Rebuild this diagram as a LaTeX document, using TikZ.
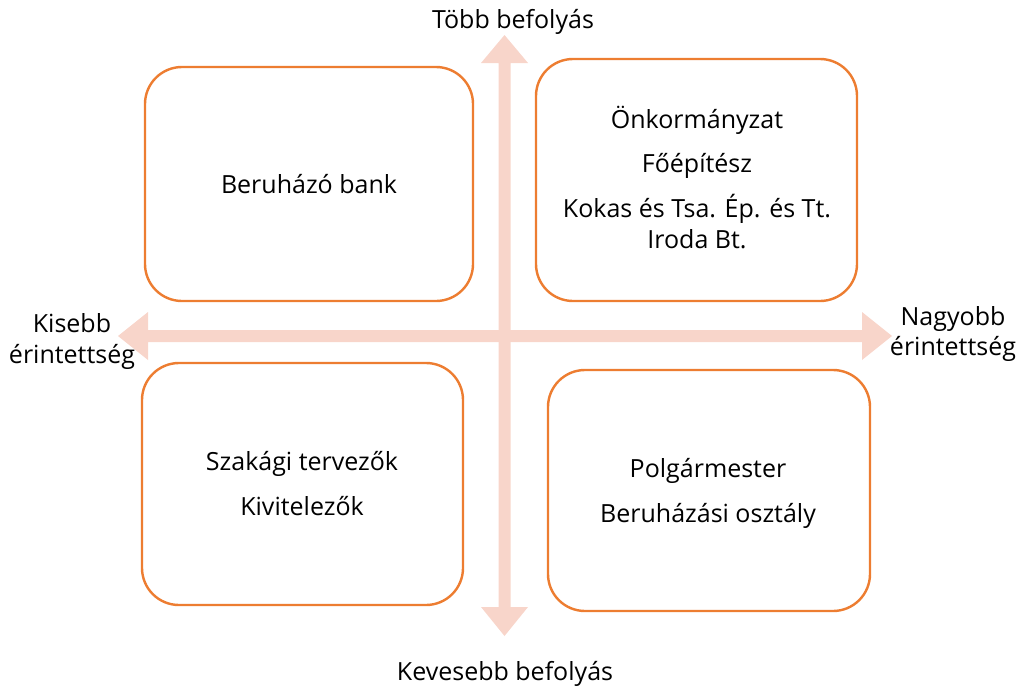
\documentclass[tikz,border=0pt]{standalone}
\usepackage{fontspec}
\setmainfont{Open Sans}
\definecolor{boxorange}{HTML}{ED7D31}
\definecolor{arrowpink}{HTML}{F8D5CA}
\begin{document}
\begin{tikzpicture}[x=1pt,y=-1pt,
  quad/.style={draw=boxorange,line width=2.4pt,rounded corners=37pt,fill=white,inner sep=0pt},
  lbl/.style={anchor=base,inner sep=0pt,font=\fontsize{25}{29}\selectfont},
  axis/.style={fill=arrowpink,draw=none}]
\useasboundingbox (0,0) rectangle (1022,691);
% axes
\fill[axis] (504.5,35) -- (528,63) -- (510.5,63) -- (510.5,607) -- (528,607) -- (504.5,636)
  -- (481,607) -- (498.5,607) -- (498.5,63) -- (481,63) -- cycle;
\fill[axis] (118,336) -- (148,312) -- (148,330) -- (862,330) -- (862,312) -- (892,336)
  -- (862,360) -- (862,342) -- (148,342) -- (148,360) -- cycle;
% boxes
\node[quad,minimum width=328pt,minimum height=234pt] (tl) at (309,184) {};
\node[quad,minimum width=321pt,minimum height=242pt] (tr) at (696.5,180) {};
\node[quad,minimum width=321pt,minimum height=242pt] (bl) at (302.5,484) {};
\node[quad,minimum width=322pt,minimum height=241pt] (br) at (709,490.5) {};
% box texts
\node[lbl] (t1) at (309,193) {Beruházó bank};
\node[lbl] (t2) at (697,128) {Önkormányzat};
\node[lbl] (t3) at (697,172) {Főépítész};
\node[lbl] (t4) at (697,217) {Kokas és Tsa. Ép. és Tt.};
\node[lbl] (t5) at (697,248) {Iroda Bt.};
\node[lbl] (t6) at (302,470) {Szakági tervezők};
\node[lbl] (t7) at (302,515) {Kivitelezők};
\node[lbl] (t8) at (708,477) {Polgármester};
\node[lbl] (t9) at (708,522) {Beruházási osztály};
% axis labels
\node[lbl] (up) at (513,28) {Több befolyás};
\node[lbl] (down) at (505,680) {Kevesebb befolyás};
\node[lbl] (l1) at (72,332) {Kisebb};
\node[lbl] (l2) at (72,363) {érintettség};
\node[lbl] (r1) at (953,325) {Nagyobb};
\node[lbl] (r2) at (953,355) {érintettség};
\end{tikzpicture}
\end{document}
